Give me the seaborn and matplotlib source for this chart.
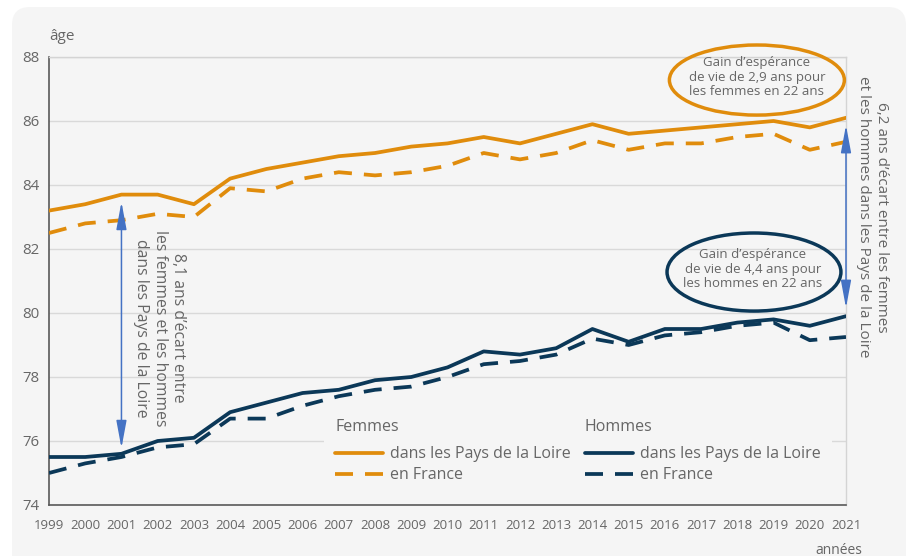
import matplotlib
matplotlib.use("Agg")
import matplotlib.pyplot as plt
import numpy as np
import pandas as pd
import seaborn as sns
from matplotlib.patches import Ellipse, FancyBboxPatch, Rectangle
from matplotlib.lines import Line2D

# ---------------- data ----------------
annees = [1999, 2000, 2001, 2002, 2003, 2004, 2005, 2006, 2007, 2008, 2009, 2010,
          2011, 2012, 2013, 2014, 2015, 2016, 2017, 2018, 2019, 2020, 2021]
femmes_pdl = [83.2, 83.4, 83.7, 83.7, 83.4, 84.2, 84.5, 84.7, 84.9, 85.0, 85.2, 85.3,
              85.5, 85.3, 85.6, 85.9, 85.6, 85.7, 85.8, 85.9, 86.0, 85.8, 86.1]
femmes_fr = [82.5, 82.8, 82.9, 83.1, 83.0, 83.9, 83.8, 84.2, 84.4, 84.3, 84.4, 84.6,
             85.0, 84.8, 85.0, 85.4, 85.1, 85.3, 85.3, 85.5, 85.6, 85.1, 85.35]
hommes_pdl = [75.5, 75.5, 75.6, 76.0, 76.1, 76.9, 77.2, 77.5, 77.6, 77.9, 78.0, 78.3,
              78.8, 78.7, 78.9, 79.5, 79.1, 79.5, 79.5, 79.7, 79.8, 79.6, 79.9]
hommes_fr = [75.0, 75.3, 75.5, 75.8, 75.9, 76.7, 76.7, 77.1, 77.4, 77.6, 77.7, 78.0,
             78.4, 78.5, 78.7, 79.2, 79.0, 79.3, 79.4, 79.6, 79.7, 79.15, 79.25]
y_ticks = [74, 76, 78, 80, 82, 84, 86, 88]

series_names = ["Femmes PdL", "Femmes France", "Hommes PdL", "Hommes France"]
legend_labels = ["dans les Pays de la Loire", "en France"]

# ---------------- style ----------------
sns.set_theme(style="white")
plt.rcParams["font.family"] = ["Open Sans", "DejaVu Sans"]

ORANGE = "#E08C0C"
NAVY = "#0B3858"
BLUE = "#4472C4"
GREY = "#666666"
BG = "#F5F5F5"
LW = 2.7
DASH = (4.8, 3.2)

df = pd.DataFrame({
    "annee": annees * 4,
    "age": femmes_pdl + femmes_fr + hommes_pdl + hommes_fr,
    "serie": sum([[n] * len(annees) for n in series_names], []),
})

fig = plt.figure(figsize=(9.12, 5.56), dpi=100)
fig.patch.set_facecolor("white")
card = FancyBboxPatch((12, -30), 894, 579, boxstyle="round,pad=0,rounding_size=18",
                      transform=None, facecolor=BG, edgecolor="none", zorder=0)
fig.add_artist(card)

ax = fig.add_axes([49 / 912, 51 / 556, 797 / 912, 448 / 556])
ax.set_facecolor(BG)

palette = {"Femmes PdL": ORANGE, "Femmes France": ORANGE,
           "Hommes PdL": NAVY, "Hommes France": NAVY}
dashes = {"Femmes PdL": "", "Femmes France": DASH,
          "Hommes PdL": "", "Hommes France": DASH}
sns.lineplot(data=df, x="annee", y="age", hue="serie", style="serie",
             palette=palette, dashes=dashes, linewidth=LW, legend=False, ax=ax,
             zorder=3)

ax.set_xlim(annees[0], annees[-1])
ax.set_ylim(y_ticks[0], y_ticks[-1])
ax.set_xticks(annees)
ax.set_yticks(y_ticks)
ax.set_xlabel("")
ax.set_ylabel("")
ax.set_axisbelow(True)
ax.yaxis.grid(True, color="#d9d9d9", lw=1)
ax.xaxis.grid(False)
ax.tick_params(axis="x", length=0, pad=10, labelsize=9.5, labelcolor=GREY)
ax.tick_params(axis="y", length=0, pad=7, labelsize=10.8, labelcolor=GREY)
for s in ["left", "bottom"]:
    ax.spines[s].set_color("#595959")
    ax.spines[s].set_linewidth(1.2)
for s in ["right", "top"]:
    ax.spines[s].set_color("#d4d4d4")
    ax.spines[s].set_linewidth(1)

ax.text(0, 1.045, "âge", transform=ax.transAxes, ha="left", va="center",
        fontsize=11, color=GREY)
fig.text(839 / 912, 6 / 556, "années", ha="center", va="center",
         fontsize=10, color=GREY)

# double arrows
arrow_style = "<|-|>,head_length=1.4,head_width=0.26"
ax.annotate("", xy=(2001, 83.47), xytext=(2001, 75.78),
            arrowprops=dict(arrowstyle=arrow_style, color=BLUE, lw=1.1,
                            shrinkA=0, shrinkB=0), zorder=4)
ax.annotate("", xy=(2021, 85.87), xytext=(2021, 80.16),
            arrowprops=dict(arrowstyle=arrow_style, color=BLUE, lw=1.1,
                            shrinkA=0, shrinkB=0), zorder=4, annotation_clip=False)

ax.text(2002.06, 79.53, "8,1 ans d’écart entre\nles femmes et les hommes\ndans les Pays de la Loire",
        rotation=270, ha="center", va="center", multialignment="center",
        fontsize=11.3, color=GREY, linespacing=1.2)
ax.text(2021.74, 83.0, "6,2 ans d’écart entre les femmes\net les hommes dans les Pays de la Loire",
        rotation=270, ha="center", va="center", multialignment="center",
        fontsize=11, color=GREY, linespacing=1.3, clip_on=False)

# ellipses
ax.add_patch(Ellipse((2018.54, 87.28), 4.83, 2.19, fill=False, edgecolor=ORANGE,
                     lw=2.5, clip_on=False, zorder=4))
ax.add_patch(Ellipse((2018.46, 81.28), 4.80, 2.44, fill=False, edgecolor=NAVY,
                     lw=2.5, clip_on=False, zorder=4))
ax.text(2018.54, 87.375, "Gain d’espérance\nde vie de 2,9 ans pour\nles femmes en 22 ans",
        ha="center", va="center", multialignment="center", fontsize=9.5,
        color=GREY, linespacing=1.15, clip_on=False)
ax.text(2018.43, 81.375, "Gain d’espérance\nde vie de 4,4 ans pour\nles hommes en 22 ans",
        ha="center", va="center", multialignment="center", fontsize=9.5,
        color=GREY, linespacing=1.15)

# legend background
ax.add_patch(Rectangle((0.345, 0.011), 0.637, 0.212, transform=ax.transAxes,
                       facecolor=BG, edgecolor="none", zorder=1))

def make_legend(color, title, x):
    handles = [Line2D([], [], color=color, lw=LW),
               Line2D([], [], color=color, lw=LW, dashes=DASH)]
    leg = ax.legend(handles, legend_labels, title=title, loc="upper left",
                    bbox_to_anchor=(x, 0.191), frameon=False, fontsize=11.5,
                    title_fontsize=11.5, handlelength=3.0, handletextpad=0.45,
                    borderpad=0, borderaxespad=0, labelspacing=0.3,
                    alignment="left", labelcolor=GREY)
    leg.get_title().set_color(GREY)
    leg._legend_box.sep = 0.3 * 11.5 + 4.5
    leg.set_zorder(5)
    return leg

leg1 = make_legend(ORANGE, "Femmes", 0.359)
ax.add_artist(leg1)
leg2 = make_legend(NAVY, "Hommes", 0.6725)

fig.savefig("out.png", dpi=100, facecolor="white")
